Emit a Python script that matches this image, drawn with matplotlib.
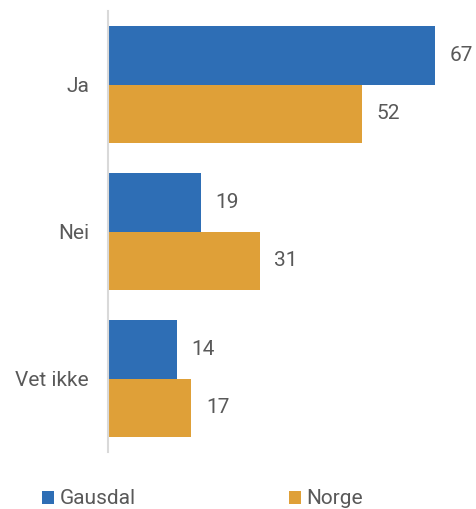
import matplotlib
matplotlib.use("Agg")
import matplotlib.pyplot as plt
import numpy as np

categories = ["Ja", "Nei", "Vet ikke"]
series_names = ["Gausdal", "Norge"]
gausdal = [67, 19, 14]
norge = [52, 31, 17]
colors = ["#2E6EB5", "#DFA038"]
text_color = "#595959"

plt.rcParams['font.family'] = ['Roboto', 'DejaVu Sans']

W, H = 477, 509
fig = plt.figure(figsize=(W/100, H/100), dpi=100)
left = 108.5 / W
bottom = (H - 452) / H
top = (H - 11) / H
ax = fig.add_axes([left, bottom, (470 - 108.5) / W, top - bottom])

y = np.arange(len(categories))
h = 0.4
b1 = ax.barh(y - h/2, gausdal, height=h, color=colors[0], label=series_names[0])
b2 = ax.barh(y + h/2, norge, height=h, color=colors[1], label=series_names[1])
for b in (b1, b2):
    ax.bar_label(b, padding=10.5, fontsize=15, color=text_color)

ax.set_ylim(2.5, -0.5)
ax.set_xlim(0, (470 - 108.5) / 4.88)
ax.set_yticks(y)
ax.set_yticklabels(categories, fontsize=15, color=text_color)
ax.tick_params(axis='y', length=0, pad=14)
ax.set_xticks([])
for s in ['top', 'right', 'bottom']:
    ax.spines[s].set_visible(False)
ax.spines['left'].set_color('#D9D9D9')
ax.spines['left'].set_linewidth(1.5)

leg = fig.legend(handles=[b1, b2], labels=series_names, loc='center left',
                 bbox_to_anchor=(42 / W, 1 - 499 / H), ncol=2, frameon=False,
                 fontsize=15, handlelength=0.6, handleheight=0.6,
                 handletextpad=0.25, columnspacing=7.35, borderpad=0,
                 borderaxespad=0)
for t in leg.get_texts():
    t.set_color(text_color)

fig.savefig("out.png", dpi=100)
